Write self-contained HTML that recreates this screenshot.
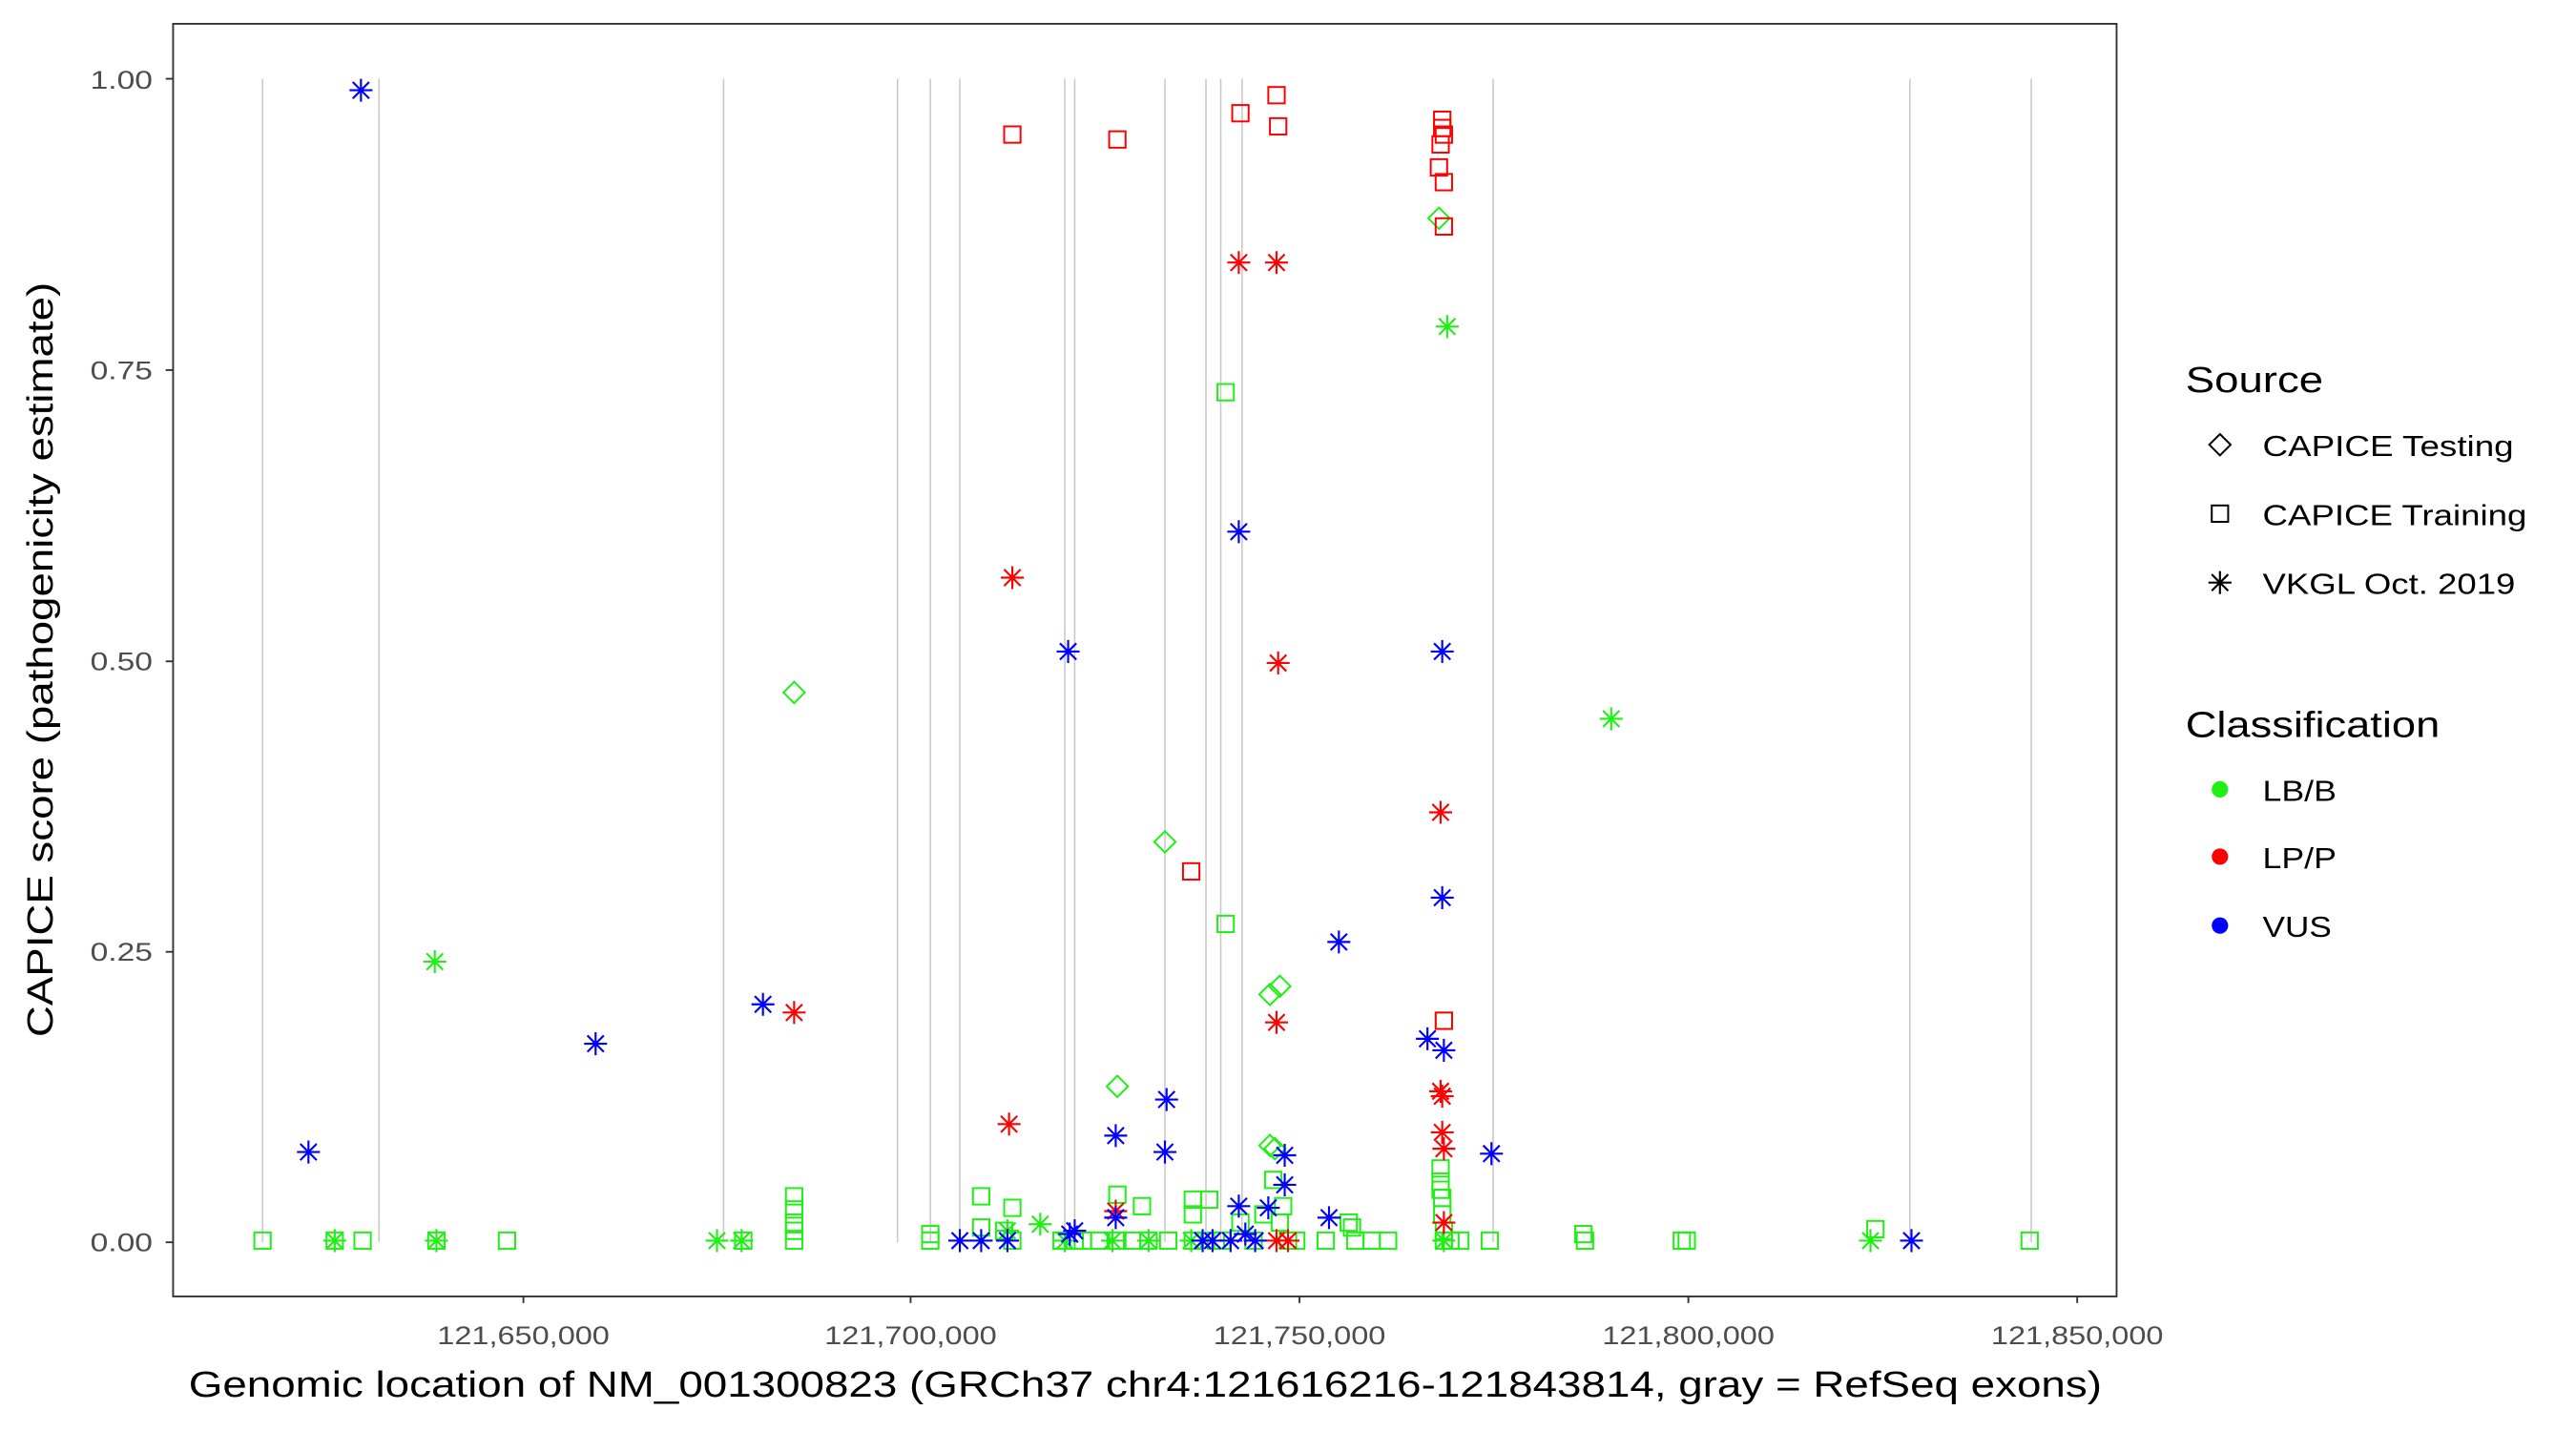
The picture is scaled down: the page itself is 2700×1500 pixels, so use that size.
<!DOCTYPE html>
<html><head><meta charset="utf-8"><style>
html,body{margin:0;padding:0;background:#fff;}
svg{display:block;}
text{font-family:"Liberation Sans",Arial,sans-serif;}
</style></head><body>
<svg width="2700" height="1500" viewBox="0 0 1570 872" preserveAspectRatio="none" xmlns="http://www.w3.org/2000/svg">
<defs>
<g id="a" fill="none" stroke="currentColor" stroke-width="1.25" stroke-linecap="butt"><path d="M-7 0H7M0 -7V7M-5 -5L5 5M-5 5L5 -5"/></g>
<g id="s"><rect x="-5" y="-5" width="10" height="10" fill="none" stroke="currentColor" stroke-width="1.15"/></g>
<g id="d"><path d="M0 -6.5L6.5 0L0 6.5L-6.5 0Z" fill="none" stroke="currentColor" stroke-width="1.15"/></g>
</defs>
<rect width="1570" height="872" fill="#fff"/>
<g stroke="#c8c8c8" stroke-width="0.9">
<line x1="160" y1="48" x2="160" y2="757"/><line x1="231" y1="48" x2="231" y2="757"/>
<line x1="441" y1="48" x2="441" y2="757"/><line x1="547" y1="48" x2="547" y2="757"/>
<line x1="567" y1="48" x2="567" y2="757"/><line x1="585" y1="48" x2="585" y2="757"/>
<line x1="649" y1="48" x2="649" y2="757"/><line x1="655" y1="48" x2="655" y2="757"/>
<line x1="710" y1="48" x2="710" y2="757"/><line x1="735" y1="48" x2="735" y2="757"/>
<line x1="744" y1="48" x2="744" y2="757"/><line x1="757" y1="48" x2="757" y2="757"/>
<line x1="910" y1="48" x2="910" y2="757"/><line x1="1164" y1="48" x2="1164" y2="757"/>
<line x1="1238" y1="48" x2="1238" y2="757"/>
</g>
<g color="#1EF014">
<use href="#s" x="160" y="756"/><use href="#s" x="204" y="756"/><use href="#s" x="221" y="756"/><use href="#s" x="266" y="756"/><use href="#s" x="309" y="756"/><use href="#s" x="453" y="756"/>
<use href="#s" x="484" y="729"/><use href="#s" x="484" y="737"/><use href="#s" x="484" y="745"/><use href="#s" x="484" y="750"/><use href="#s" x="484" y="756"/>
<use href="#s" x="567" y="756"/><use href="#s" x="567" y="752"/><use href="#s" x="598" y="729"/><use href="#s" x="598" y="748"/><use href="#s" x="612" y="750"/><use href="#s" x="617" y="736"/><use href="#s" x="617" y="756"/>
<use href="#s" x="647" y="756"/><use href="#s" x="660" y="756"/><use href="#s" x="670" y="756"/><use href="#s" x="681" y="728"/><use href="#s" x="681" y="756"/><use href="#s" x="690" y="756"/><use href="#s" x="696" y="735"/><use href="#s" x="712" y="756"/>
<use href="#s" x="727" y="731"/><use href="#s" x="727" y="740"/><use href="#s" x="727" y="756"/><use href="#s" x="747" y="239"/><use href="#s" x="747" y="563"/><use href="#s" x="737" y="731"/><use href="#s" x="741" y="756"/>
<use href="#s" x="756" y="745"/><use href="#s" x="776" y="719"/><use href="#s" x="782" y="735"/><use href="#s" x="785" y="756"/><use href="#s" x="790" y="756"/><use href="#s" x="808" y="756"/><use href="#s" x="822" y="745"/><use href="#s" x="824" y="748"/><use href="#s" x="826" y="756"/><use href="#s" x="836" y="756"/><use href="#s" x="846" y="756"/>
<use href="#s" x="878" y="712"/><use href="#s" x="878" y="720"/><use href="#s" x="878" y="725"/><use href="#s" x="879" y="730"/><use href="#s" x="879" y="740"/><use href="#s" x="880" y="750"/><use href="#s" x="880" y="756"/><use href="#s" x="880" y="622"/>
<use href="#s" x="884" y="756"/><use href="#s" x="890" y="756"/><use href="#s" x="908" y="756"/><use href="#s" x="965" y="752"/><use href="#s" x="966" y="756"/><use href="#s" x="1025" y="756"/><use href="#s" x="1028" y="756"/><use href="#s" x="1143" y="749"/><use href="#s" x="1237" y="756"/>
<use href="#s" x="780" y="745"/><use href="#s" x="764" y="756"/><use href="#s" x="770" y="740"/><use href="#s" x="745" y="756"/><use href="#s" x="700" y="756"/><use href="#s" x="655" y="756"/>
</g>
<g color="#1EF014">
<use href="#d" x="484" y="422"/><use href="#d" x="710" y="513"/><use href="#d" x="681" y="662"/><use href="#d" x="774" y="606"/><use href="#d" x="780" y="601"/><use href="#d" x="774" y="698"/><use href="#d" x="777" y="700"/><use href="#d" x="877" y="133"/>
</g>
<g color="#1EF014">
<use href="#a" x="265" y="586"/><use href="#a" x="882" y="199"/><use href="#a" x="982" y="438"/><use href="#a" x="204" y="756"/><use href="#a" x="266" y="756"/><use href="#a" x="437" y="756"/><use href="#a" x="452" y="756"/>
<use href="#a" x="634" y="746"/><use href="#a" x="649" y="756"/><use href="#a" x="678" y="756"/><use href="#a" x="726" y="756"/><use href="#a" x="880" y="756"/><use href="#a" x="1140" y="756"/><use href="#a" x="614" y="750"/><use href="#a" x="700" y="756"/>
</g>
<g color="#FF0000">
<use href="#s" x="617" y="82"/><use href="#s" x="681" y="85"/><use href="#s" x="756" y="69"/><use href="#s" x="778" y="58"/><use href="#s" x="779" y="77"/><use href="#s" x="726" y="531"/>
<use href="#s" x="879" y="73"/><use href="#s" x="879" y="78"/><use href="#s" x="880" y="82"/><use href="#s" x="877" y="102"/><use href="#s" x="878" y="88"/><use href="#s" x="880" y="111"/><use href="#s" x="880" y="138"/><use href="#s" x="880" y="622"/>
</g>
<g color="#FF0000">
<use href="#a" x="617" y="352"/><use href="#a" x="615" y="685"/><use href="#a" x="755" y="160"/><use href="#a" x="778" y="160"/><use href="#a" x="779" y="404"/><use href="#a" x="778" y="623"/>
<use href="#a" x="878" y="495"/><use href="#a" x="878" y="665"/><use href="#a" x="879" y="668"/><use href="#a" x="879" y="690"/><use href="#a" x="880" y="700"/><use href="#a" x="880" y="745"/><use href="#a" x="680" y="738"/><use href="#a" x="778" y="756"/><use href="#a" x="785" y="756"/><use href="#a" x="484" y="617"/>
</g>
<g color="#0000FF">
<use href="#a" x="220" y="55"/><use href="#a" x="188" y="702"/><use href="#a" x="363" y="636"/><use href="#a" x="465" y="612"/><use href="#a" x="651" y="397"/><use href="#a" x="755" y="324"/>
<use href="#a" x="680" y="692"/><use href="#a" x="711" y="670"/><use href="#a" x="710" y="702"/><use href="#a" x="755" y="735"/><use href="#a" x="783" y="704"/><use href="#a" x="783" y="722"/><use href="#a" x="773" y="736"/><use href="#a" x="810" y="742"/>
<use href="#a" x="816" y="574"/><use href="#a" x="870" y="633"/><use href="#a" x="879" y="547"/><use href="#a" x="879" y="397"/><use href="#a" x="880" y="640"/><use href="#a" x="909" y="703"/><use href="#a" x="1165" y="756"/>
<use href="#a" x="598" y="756"/><use href="#a" x="614" y="756"/><use href="#a" x="585" y="756"/><use href="#a" x="655" y="750"/><use href="#a" x="652" y="752"/><use href="#a" x="733" y="756"/><use href="#a" x="739" y="756"/><use href="#a" x="759" y="752"/><use href="#a" x="765" y="756"/><use href="#a" x="680" y="742"/><use href="#a" x="750" y="756"/>
</g>
<rect x="105.5" y="14.5" width="1184.5" height="775.5" fill="none" stroke="#333" stroke-width="1.1"/>
<g stroke="#333" stroke-width="1.1">
<line x1="101" y1="48" x2="105" y2="48"/><line x1="101" y1="225.5" x2="105" y2="225.5"/><line x1="101" y1="403" x2="105" y2="403"/><line x1="101" y1="580" x2="105" y2="580"/><line x1="101" y1="757" x2="105" y2="757"/>
<line x1="319" y1="790" x2="319" y2="794"/><line x1="555" y1="790" x2="555" y2="794"/><line x1="792" y1="790" x2="792" y2="794"/><line x1="1029" y1="790" x2="1029" y2="794"/><line x1="1266" y1="790" x2="1266" y2="794"/>
</g>
<g font-size="15.5" fill="#4d4d4d" text-anchor="end" lengthAdjust="spacingAndGlyphs">
<text x="93" y="54" textLength="38" lengthAdjust="spacingAndGlyphs">1.00</text><text x="93" y="231" textLength="38" lengthAdjust="spacingAndGlyphs">0.75</text><text x="93" y="408.5" textLength="38" lengthAdjust="spacingAndGlyphs">0.50</text><text x="93" y="585.5" textLength="38" lengthAdjust="spacingAndGlyphs">0.25</text><text x="93" y="762.5" textLength="38" lengthAdjust="spacingAndGlyphs">0.00</text>
</g>
<g font-size="15.5" fill="#4d4d4d" text-anchor="middle">
<text x="319" y="819" textLength="105" lengthAdjust="spacingAndGlyphs">121,650,000</text><text x="555" y="819" textLength="105" lengthAdjust="spacingAndGlyphs">121,700,000</text><text x="792" y="819" textLength="105" lengthAdjust="spacingAndGlyphs">121,750,000</text><text x="1029" y="819" textLength="105" lengthAdjust="spacingAndGlyphs">121,800,000</text><text x="1266" y="819" textLength="105" lengthAdjust="spacingAndGlyphs">121,850,000</text>
</g>
<text x="115" y="851" font-size="22" fill="#000" textLength="1166" lengthAdjust="spacingAndGlyphs">Genomic location of NM_001300823 (GRCh37 chr4:121616216-121843814, gray = RefSeq exons)</text>
<text transform="translate(32,402) rotate(-90)" font-size="22" text-anchor="middle" fill="#000" textLength="460" lengthAdjust="spacingAndGlyphs">CAPICE score (pathogenicity estimate)</text>
<text x="1332" y="239" font-size="22" fill="#000" textLength="84" lengthAdjust="spacingAndGlyphs">Source</text>
<g color="#000">
<use href="#d" x="1353" y="271"/><use href="#s" x="1353" y="313"/><use href="#a" x="1353" y="355"/>
</g>
<g font-size="17.5" fill="#000">
<text x="1379" y="278" textLength="153" lengthAdjust="spacingAndGlyphs">CAPICE Testing</text><text x="1379" y="320" textLength="161" lengthAdjust="spacingAndGlyphs">CAPICE Training</text><text x="1379" y="362" textLength="154" lengthAdjust="spacingAndGlyphs">VKGL Oct. 2019</text>
</g>
<text x="1332" y="449" font-size="22" fill="#000" textLength="155" lengthAdjust="spacingAndGlyphs">Classification</text>
<circle cx="1353" cy="481" r="5" fill="#1EF014"/><circle cx="1353" cy="522" r="5" fill="#FF0000"/><circle cx="1353" cy="564" r="5" fill="#0000FF"/>
<g font-size="17.5" fill="#000">
<text x="1379" y="488" textLength="45" lengthAdjust="spacingAndGlyphs">LB/B</text><text x="1379" y="529" textLength="45" lengthAdjust="spacingAndGlyphs">LP/P</text><text x="1379" y="571" textLength="42" lengthAdjust="spacingAndGlyphs">VUS</text>
</g>
</svg>
</body></html>
